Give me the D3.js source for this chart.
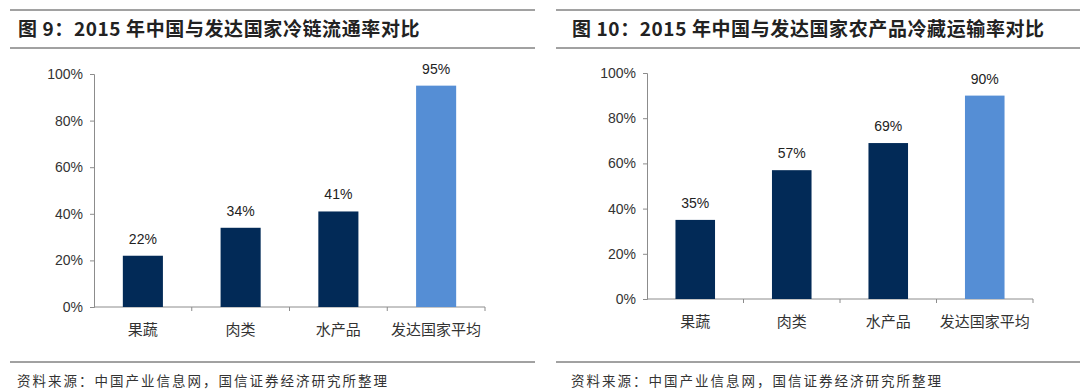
<!DOCTYPE html>
<html>
<head>
<meta charset="utf-8">
<script src="https://cdn.jsdelivr.net/npm/d3@7"></script>
<style>
  body { margin: 0; background: #fff; }
  svg { display: block; }
</style>
</head>
<body>
<svg id="chart" width="1080" height="389"></svg>
<script>
const categories = ["果蔬", "肉类", "水产品", "发达国家平均"];
const coldChainRate = [22, 34, 41, 95];
const coldTransportRate = [35, 57, 69, 90];
const yTicks = [0, 20, 40, 60, 80, 100];
const titles = ["图 9：2015 年中国与发达国家冷链流通率对比", "图 10：2015 年中国与发达国家农产品冷藏运输率对比"];
const sourceText = "资料来源：中国产业信息网，国信证券经济研究所整理";

const navy = "#022a57";
const lightBlue = "#558ed5";
const axisGray = "#8c8c8c";

const svg = d3.select("#chart");

function drawPanel(opts) {
    const g = svg.append("g");

    // header rules and title
    g.append("line").attr("x1", opts.lineX1).attr("x2", opts.lineX2).attr("y1", 10).attr("y2", 10)
        .attr("stroke", "#444").attr("stroke-width", 1);
    g.append("line").attr("x1", opts.lineX1).attr("x2", opts.lineX2).attr("y1", 48).attr("y2", 48)
        .attr("stroke", "#444").attr("stroke-width", 1);
    g.append("text").attr("x", opts.titleX).attr("y", 36)
        .attr("font-family", "'Noto Sans CJK SC', sans-serif").attr("font-weight", "bold")
        .attr("font-size", 19).attr("fill", "#222").attr("letter-spacing", 0.6)
        .text(opts.title);

    // footer rule and source
    g.append("line").attr("x1", opts.lineX1).attr("x2", opts.lineX2).attr("y1", 362).attr("y2", 362)
        .attr("stroke", "#444").attr("stroke-width", 1);
    g.append("text").attr("x", opts.sourceX).attr("y", 386)
        .attr("font-family", "'Noto Sans CJK SC', serif").attr("font-size", 13.5)
        .attr("fill", "#333").attr("letter-spacing", 2)
        .text(sourceText);

    const x = d3.scaleBand().domain(categories).range([opts.left, opts.right]).paddingInner(0.59).paddingOuter(0.295);
    const xTickScale = d3.scaleBand().domain(categories).range([opts.left, opts.right]);
    const y = d3.scaleLinear().domain([0, 100]).range([opts.bottom, opts.top]);

    // y axis
    const yAxis = g.append("g").attr("transform", `translate(${opts.left},0)`)
        .call(d3.axisLeft(y).tickValues(yTicks).tickFormat(d => d + "%").tickSize(4).tickPadding(7));
    yAxis.select(".domain").attr("stroke", axisGray);
    yAxis.selectAll(".tick line").attr("stroke", axisGray);
    yAxis.selectAll("text").attr("font-family", "Arial, 'Liberation Sans', sans-serif")
        .attr("font-size", 14).attr("fill", "#333");

    // x axis
    const xAxis = g.append("g").attr("transform", `translate(0,${opts.bottom})`);
    xAxis.append("line").attr("x1", opts.left).attr("x2", opts.right).attr("stroke", axisGray);
    xAxis.selectAll("line.tk").data(categories).enter().append("line").attr("class", "tk")
        .attr("x1", d => xTickScale(d) + xTickScale.bandwidth()).attr("x2", d => xTickScale(d) + xTickScale.bandwidth())
        .attr("y1", 0).attr("y2", 4).attr("stroke", axisGray);
    xAxis.selectAll("text").data(categories).enter().append("text")
        .attr("x", d => xTickScale(d) + xTickScale.bandwidth() / 2)
        .attr("y", opts.catDy)
        .attr("text-anchor", "middle")
        .attr("font-family", "'Noto Sans CJK SC', serif").attr("font-size", 15).attr("fill", "#333")
        .text(d => d);

    // bars
    g.selectAll("rect.bar").data(opts.values).enter().append("rect").attr("class", "bar")
        .attr("x", (d, i) => x(categories[i]))
        .attr("y", d => y(d))
        .attr("width", x.bandwidth())
        .attr("height", d => opts.bottom - y(d))
        .attr("fill", (d, i) => i === categories.length - 1 ? lightBlue : navy);

    // value labels
    g.selectAll("text.val").data(opts.values).enter().append("text").attr("class", "val")
        .attr("x", (d, i) => x(categories[i]) + x.bandwidth() / 2)
        .attr("y", d => y(d) - 12)
        .attr("text-anchor", "middle")
        .attr("font-family", "Arial, 'Liberation Sans', sans-serif").attr("font-size", 14).attr("fill", "#222")
        .text(d => d + "%");
}

drawPanel({ title: titles[0], values: coldChainRate, left: 94, right: 485, top: 74, bottom: 307,
    lineX1: 10, lineX2: 535, titleX: 18, sourceX: 17, catDy: 28 });
drawPanel({ title: titles[1], values: coldTransportRate, left: 647, right: 1033, top: 73, bottom: 299,
    lineX1: 556, lineX2: 1080, titleX: 572, sourceX: 571, catDy: 28 });
</script>
</body>
</html>
